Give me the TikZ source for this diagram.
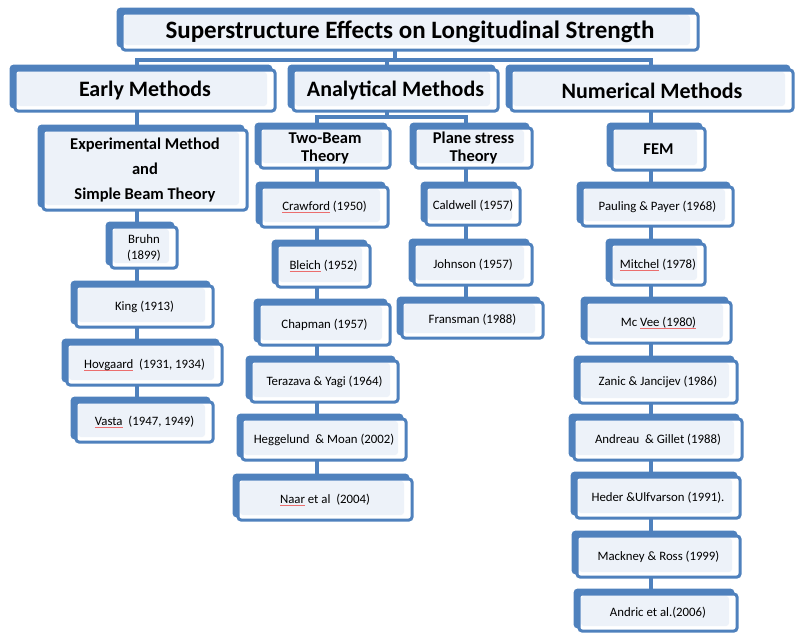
\documentclass[tikz,border=0pt]{standalone}
\usepackage{fontspec}
\setmainfont{Carlito}
\usetikzlibrary{backgrounds}
\definecolor{boxblue}{RGB}{79,129,189}
\definecolor{lightfill}{RGB}{237,242,249}
\definecolor{spellred}{RGB}{235,110,110}
% thin red underline under flagged words
\newcommand\spl[1]{\leavevmode\setbox0=\hbox{#1}\rlap{\color{spellred}\rule[-2.2pt]{\wd0}{0.45pt}}\box0\relax}
\tikzset{
  cbox/.style={draw=boxblue, line width=3pt, rounded corners=3pt, fill=white,
    inner sep=0pt, align=center,
    preaction={fill=boxblue, draw=boxblue, line width=3pt,
      transform canvas={shift={(-4pt,4pt)}}},
    path picture={\fill[lightfill]
      ([shift={(2pt,-2pt)}]path picture bounding box.north west) rectangle
      ([shift={(-8pt,5pt)}]path picture bounding box.south east);}},
  titlefont/.style={font=\fontsize{25}{28}\selectfont\bfseries},
  headfont/.style={font=\fontsize{22}{25}\selectfont\bfseries},
  subfont/.style={font=\fontsize{16.5}{18}\selectfont\bfseries},
  subfontb/.style={font=\fontsize{16.5}{25}\selectfont\bfseries},
  leaffont/.style={font=\fontsize{12.8}{16}\selectfont},
  link/.style={draw=boxblue, line width=4pt},
}
% box given by its front rectangle: style, name, x1, y1, x2, y2, text
\newcommand\bx[7]{\node[cbox,#1,minimum width={(#5-#3)*1pt},minimum height={(#6-#4)*1pt}]
  (#2) at ({(#3+#5)/2},{(#4+#6)/2}) {#7};}
\begin{document}
\begin{tikzpicture}[x=1pt,y=-1pt]
\useasboundingbox (0,0) rectangle (795,633);
% title and main branches
\bx{titlefont}{title}{122}{13}{698}{50}{Superstructure Effects on Longitudinal Strength}
\bx{headfont}{early}{15}{70}{275}{111}{Early Methods}
\bx{headfont}{anal}{293}{70}{498}{111}{Analytical Methods}
\bx{headfont}{num}{511}{70}{793}{111}{Numerical Methods}
% second level
\bx{subfontb}{exp}{43}{130}{247}{210}{Experimental Method\\and\\Simple Beam Theory}
\bx{subfont}{twob}{260}{128}{390}{168}{Two-Beam\\Theory}
\bx{subfont}{plane}{415}{128}{532}{168}{Plane stress\\Theory}
\bx{subfont}{fem}{612}{128}{705}{170}{FEM}
% early methods
\bx{leaffont}{bruhn}{111}{227}{177}{268}{Bruhn\\(1899)}
\bx{leaffont}{king}{76}{286}{213}{327}{King (1913)}
\bx{leaffont}{hov}{67}{344}{222}{385}{\spl{Hovgaard}\ \ (1931, 1934)}
\bx{leaffont}{vasta}{76}{402}{213}{442}{\spl{Vasta}\ \ (1947, 1949)}
% two-beam theory
\bx{leaffont}{craw}{261}{187}{388}{227}{\spl{Crawford} (1950)}
\bx{leaffont}{bleich}{277}{245}{370}{287}{\spl{Bleich} (1952)}
\bx{leaffont}{chap}{259}{304}{390}{345}{Chapman (1957)}
\bx{leaffont}{tera}{251}{361}{398}{402}{Terazava \& Yagi (1964)}
\bx{leaffont}{hegg}{242}{419}{406}{460}{Heggelund\ \ \& Moan (2002)}
\bx{leaffont}{naar}{238}{479}{412}{520}{\spl{Naar} et al\ \ (2004)}
% plane stress theory
\bx{leaffont}{cald}{426}{187}{520}{225}{Caldwell (1957)}
\bx{leaffont}{john}{414}{244}{532}{285}{Johnson (1957)}
\bx{leaffont}{frans}{402}{302}{543}{338}{Fransman (1988)}
% finite element method
\bx{leaffont}{paul}{582}{187}{733}{226}{Pauling \& Payer (1968)}
\bx{leaffont}{mitch}{611}{244}{705}{285}{\spl{Mitchel} (1978)}
\bx{leaffont}{mcvee}{586}{302}{731}{343}{Mc \spl{Vee (1980)}}
\bx{leaffont}{zanic}{579}{361}{737}{403}{Zanic \& Jancijev (1986)}
\bx{leaffont}{andr}{574}{419}{742}{460}{Andreau\ \ \& Gillet (1988)}
\bx{leaffont}{heder}{576}{477}{740}{518}{Heder \&Ulfvarson (1991).}
\bx{leaffont}{mack}{577}{536}{740}{577}{Mackney \& Ross (1999)}
\bx{leaffont}{andric}{579}{594}{737}{631}{Andric et al.(2006)}
% connectors
\coordinate (topbar) at (395,60);
\coordinate (analbar) at (387,117);
\coordinate (ce) at (137,0);
\coordinate (ct) at (317,0);
\coordinate (cp) at (466,0);
\coordinate (cf) at (651,0);
\begin{scope}[on background layer]
  \draw[link] (title.center -| topbar) -- (topbar);
  \draw[link] (early.center -| ce) |- (topbar) -| (num.center -| cf);
  \draw[link] (topbar -| analbar) -- (anal.center -| analbar) -- (analbar);
  \draw[link] (twob.center -| ct) |- (analbar) -| (plane.center -| cp);
  \draw[link] (early.center -| ce) -- (exp.center -| ce) -- (bruhn.center -| ce)
    -- (king.center -| ce) -- (hov.center -| ce) -- (vasta.center -| ce);
  \draw[link] (twob.center -| ct) -- (craw.center -| ct) -- (bleich.center -| ct)
    -- (chap.center -| ct) -- (tera.center -| ct) -- (hegg.center -| ct) -- (naar.center -| ct);
  \draw[link] (plane.center -| cp) -- (cald.center -| cp) -- (john.center -| cp)
    -- (frans.center -| cp);
  \draw[link] (num.center -| cf) -- (fem.center -| cf) -- (paul.center -| cf)
    -- (mitch.center -| cf) -- (mcvee.center -| cf) -- (zanic.center -| cf)
    -- (andr.center -| cf) -- (heder.center -| cf) -- (mack.center -| cf)
    -- (andric.center -| cf);
\end{scope}
\end{tikzpicture}
\end{document}
